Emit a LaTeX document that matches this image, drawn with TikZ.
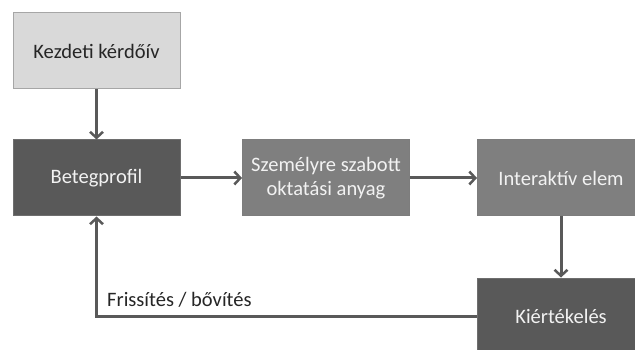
\documentclass[tikz,border=0pt]{standalone}
\usepackage{fontspec}
\setmainfont{Carlito}
\usetikzlibrary{arrows.meta}
\definecolor{lightbox}{HTML}{D9D9D9}
\definecolor{lightedge}{HTML}{A6A6A6}
\definecolor{darkbox}{HTML}{595959}
\definecolor{midbox}{HTML}{7F7F7F}
\definecolor{boxedge}{HTML}{6E6E6E}
\definecolor{arrowcol}{HTML}{595959}
\definecolor{darktext}{HTML}{262626}
\definecolor{lighttext}{HTML}{F2F2F2}
\begin{document}
\begin{tikzpicture}[x=1pt,y=-1pt,
  every node/.style={font=\fontsize{20.5}{24}\selectfont},
  boxbase/.style={rectangle, minimum width=167pt, minimum height=76pt, inner sep=0pt, align=center, line width=1pt},
  lightnode/.style={boxbase, fill=lightbox, draw=lightedge, text=darktext},
  darknode/.style={boxbase, fill=darkbox, draw=boxedge, text=lighttext},
  midnode/.style={boxbase, fill=midbox, draw=boxedge!90!white, text=lighttext},
  arr/.style={draw=arrowcol, line width=3pt, -{Straight Barb[length=6pt,width=13pt,line width=2.5pt]}},
  lbl/.style={text=darktext, inner sep=0pt}]
\useasboundingbox (0,0) rectangle (635,350);
\fill[white] (0,0) rectangle (635,350);
\clip (0,0) rectangle (635,350);
\node[lightnode] (kezd) at (96.5,51) {Kezdeti kérdőív};
\node[darknode] (beteg) at (96.5,178) {Betegprofil};
\node[midnode] (szem) at (326,178) {Személyre szabott\\oktatási anyag};
\node[midnode] (inter) at (561,178) {Interaktív elem};
\node[darknode] (kiert) at (561,316) {Kiértékelés};
\draw[arr] (kezd) -- (beteg);
\draw[arr] (beteg) -- (szem);
\draw[arr] (szem) -- (inter);
\draw[arr] (inter) -- (kiert);
\draw[arr] (kiert.west) -| (beteg.south);
\node[lbl, anchor=base west] (frl) at (107,306) {Frissítés / bővítés};
\end{tikzpicture}
\end{document}
